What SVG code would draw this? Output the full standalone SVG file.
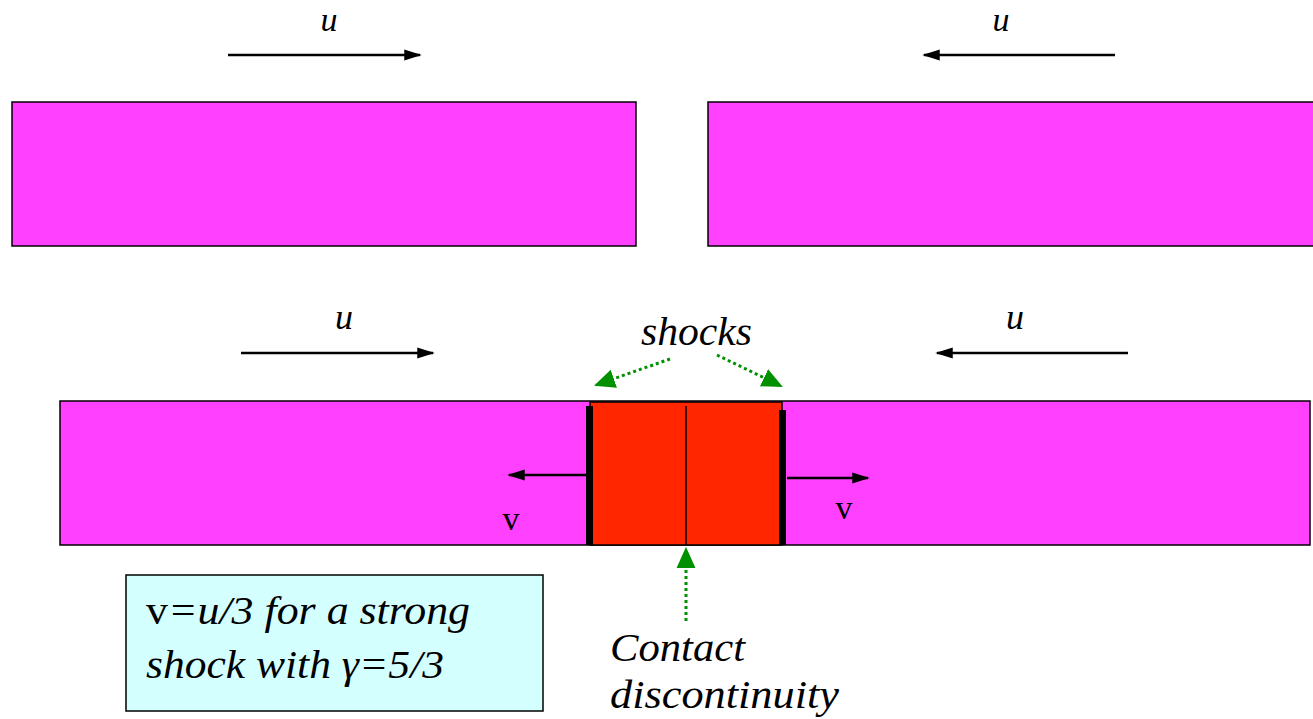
<svg xmlns="http://www.w3.org/2000/svg" width="1313" height="719" viewBox="0 0 1313 719">
<style>
.bar{fill:#FF40FF;stroke:#000;stroke-width:1.5}
.arr{stroke:#000;stroke-width:2.5;fill:none;marker-end:url(#ah)}
.g{stroke:#009000;stroke-width:3;stroke-dasharray:3 3;fill:none;marker-end:url(#gh)}
.it{font-family:"Liberation Serif",serif;font-style:italic;fill:#000}
.up{font-family:"Liberation Serif",serif;fill:#000}
</style>
<defs>
<marker id="ah" viewBox="0 0 10 10" refX="9" refY="5" markerWidth="7" markerHeight="7" orient="auto" markerUnits="strokeWidth"><path d="M0,1.8 L10,5 L0,8.2 Z" fill="#000"/></marker>
<marker id="gh" viewBox="0 0 10 10" refX="9" refY="5" markerWidth="7" markerHeight="7" orient="auto" markerUnits="strokeWidth"><path d="M0,0.5 L10,5 L0,9.5 Z" fill="#009000"/></marker>
</defs>
<rect width="1313" height="719" fill="#fff"/>
<g id="bar-top-left"><rect class="bar" x="12" y="102" width="624" height="144"/></g>
<g id="bar-top-right"><rect class="bar" x="708" y="102" width="606" height="144"/></g>
<g id="bar-bottom"><rect class="bar" x="60" y="401" width="1250" height="144"/></g>
<g id="hot-region">
<rect x="590" y="402" width="192" height="143" fill="#FF2600" stroke="#000" stroke-width="1.5"/>
<line x1="686" y1="406" x2="686" y2="545" stroke="#000" stroke-width="1.5"/>
<rect x="586" y="406" width="7" height="139" fill="#000"/>
<rect x="779" y="410" width="7" height="135" fill="#000"/>
</g>
<g id="labels">
<text class="it" x="329" y="31" font-size="34" text-anchor="middle">u</text>
<text class="it" x="1001" y="31" font-size="34" text-anchor="middle">u</text>
<text class="it" x="344" y="329" font-size="36" text-anchor="middle">u</text>
<text class="it" x="1015" y="329" font-size="36" text-anchor="middle">u</text>
<text class="it" x="641" y="345" font-size="40" textLength="111" lengthAdjust="spacingAndGlyphs">shocks</text>
<text class="up" x="511" y="530" font-size="34" text-anchor="middle">v</text>
<text class="up" x="844" y="519" font-size="34" text-anchor="middle">v</text>
<text class="it" x="610" y="661" font-size="40" textLength="135" lengthAdjust="spacingAndGlyphs">Contact</text>
<text class="it" x="610" y="708" font-size="40" textLength="229" lengthAdjust="spacingAndGlyphs">discontinuity</text>
</g>
<g id="note">
<rect x="126" y="575" width="417" height="136" fill="#D4FFFF" stroke="#000" stroke-width="1.5"/>
<text x="146" y="624" font-size="40" class="it" textLength="324" lengthAdjust="spacingAndGlyphs"><tspan font-style="normal">v</tspan>=u/3 for a strong</text>
<text x="146" y="678" font-size="40" class="it" textLength="298" lengthAdjust="spacingAndGlyphs">shock with γ=5/3</text>
</g>
<g id="connectors">
<line class="arr" x1="228" y1="55" x2="420" y2="55"/>
<line class="arr" x1="1115" y1="55" x2="924" y2="55"/>
<line class="arr" x1="241" y1="353" x2="433" y2="353"/>
<line class="arr" x1="1128" y1="353" x2="937" y2="353"/>
<line class="arr" x1="586" y1="475" x2="509" y2="475"/>
<line class="arr" x1="787" y1="478" x2="868" y2="478"/>
<line class="g" x1="670" y1="359" x2="596" y2="385"/>
<line class="g" x1="717" y1="355" x2="781" y2="386"/>
<line class="g" x1="686" y1="621" x2="686" y2="549"/>
</g>
</svg>
